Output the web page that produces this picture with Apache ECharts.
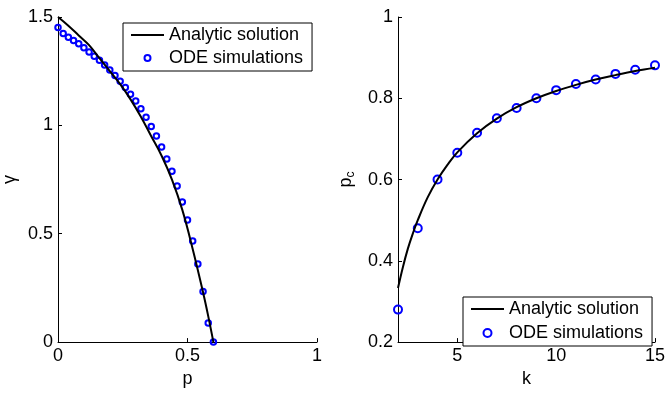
<!DOCTYPE html>
<html>
<head>
<meta charset="utf-8">
<script src="https://cdn.jsdelivr.net/npm/echarts@6/dist/echarts.min.js"></script>
<style>
  html, body { margin: 0; padding: 0; background: #fff; }
  #chart { width: 668px; height: 393px; }
</style>
</head>
<body>
<div id="chart"></div>
<script>
// left panel: gamma vs p
const pAnalytic = [0, 0.04, 0.08, 0.12, 0.16, 0.2, 0.24, 0.28, 0.32, 0.36, 0.4, 0.44, 0.48, 0.52, 0.56, 0.58, 0.6];
const gammaAnalytic = [1.5, 1.46, 1.415, 1.37, 1.31, 1.25, 1.19, 1.12, 1.04, 0.95, 0.86, 0.75, 0.61, 0.43, 0.23, 0.12, 0];
const pOde = [0, 0.02, 0.04, 0.06, 0.08, 0.1, 0.12, 0.14, 0.16, 0.18, 0.2, 0.22, 0.24, 0.26, 0.28, 0.3,
  0.32, 0.34, 0.36, 0.38, 0.4, 0.42, 0.44, 0.46, 0.48, 0.5, 0.52, 0.54, 0.56, 0.58, 0.6];
const gammaOde = [1.452, 1.424, 1.407, 1.392, 1.377, 1.358, 1.338, 1.319, 1.3, 1.279, 1.256, 1.23, 1.204, 1.175, 1.143, 1.112,
  1.077, 1.038, 0.995, 0.951, 0.9, 0.845, 0.788, 0.72, 0.646, 0.563, 0.467, 0.36, 0.234, 0.088, 0];

// right panel: p_c vs k
const kAnalytic = [2, 2.25, 2.5, 2.75, 3, 3.5, 4, 4.5, 5, 6, 7, 8, 9, 10, 11, 12, 13, 14, 15];
const pcAnalytic = [0.333, 0.385, 0.43, 0.467, 0.5, 0.556, 0.6, 0.636, 0.667, 0.714, 0.75, 0.778, 0.8, 0.818, 0.833, 0.846, 0.857, 0.867, 0.875];
const kOde = [2, 3, 4, 5, 6, 7, 8, 9, 10, 11, 12, 13, 14, 15];
const pcOde = [0.28, 0.48, 0.6, 0.666, 0.715, 0.751, 0.776, 0.8, 0.82, 0.835, 0.846, 0.86, 0.87, 0.881];

const kTicks = [5, 10, 15];
const legendNames = ['Analytic solution', 'ODE simulations'];

const font = "'Liberation Sans', Arial, sans-serif";
const pairs = (xs, ys) => xs.map((x, i) => [x, ys[i]]);

const axisCommon = {
  type: 'value',
  axisLine: { show: true, lineStyle: { color: '#000', width: 1 } },
  axisTick: { show: true, inside: true, length: 4, lineStyle: { color: '#000' } },
  splitLine: { show: false },
  axisLabel: { color: '#000', fontSize: 18, fontFamily: font, margin: 5 },
  nameLocation: 'middle',
  nameTextStyle: { color: '#000', fontSize: 18, fontFamily: font }
};

const legendCommon = {
  orient: 'vertical',
  borderColor: '#000',
  borderWidth: 1,
  backgroundColor: '#fff',
  borderRadius: 0,
  itemWidth: 33,
  textStyle: { color: '#000', fontSize: 18, fontFamily: font },
  data: [
    { name: legendNames[0], itemStyle: { opacity: 0 } },
    { name: legendNames[1] }
  ],
  selectedMode: false
};

const lineStyle = { color: '#000', width: 2 };
const circleStyle = { color: 'rgba(0,0,0,0)', borderColor: '#0000ff', borderWidth: 2, opacity: 1 };

const chart = echarts.init(document.getElementById('chart'), null, { renderer: 'canvas' });
chart.setOption({
  animation: false,
  backgroundColor: '#fff',
  grid: [
    { left: 58, top: 17, width: 259, height: 335 },
    { left: 398, top: 17, width: 259, height: 335 }
  ],
  xAxis: [
    Object.assign({}, axisCommon, { gridIndex: 0, min: 0, max: 1, interval: 0.5, name: 'p', nameGap: 23 }),
    Object.assign({}, axisCommon, {
      gridIndex: 1, min: 2, max: 15, name: 'k', nameGap: 23,
      axisTick: Object.assign({}, axisCommon.axisTick, { customValues: kTicks }),
      axisLabel: Object.assign({}, axisCommon.axisLabel, { customValues: kTicks })
    })
  ],
  yAxis: [
    Object.assign({}, axisCommon, { gridIndex: 0, min: 0, max: 1.5, interval: 0.5, name: 'γ', nameGap: 39 }),
    Object.assign({}, axisCommon, {
      gridIndex: 1, min: 0.2, max: 1, interval: 0.2, name: '{a|p}{b|c}', nameGap: 41,
      nameTextStyle: {
        color: '#000', fontFamily: font,
        rich: {
          a: { fontSize: 18, fontFamily: font, color: '#000', lineHeight: 20, verticalAlign: 'top' },
          b: { fontSize: 12, fontFamily: font, color: '#000', lineHeight: 12, verticalAlign: 'bottom' }
        }
      }
    })
  ],
  legend: [
    Object.assign({}, legendCommon, { left: 123, top: 23, padding: [3, 9, 4, 7], itemGap: 5, itemHeight: 6 }),
    Object.assign({}, legendCommon, { left: 463, top: 297, padding: [3, 9, 4, 7], itemGap: 6, itemHeight: 8 })
  ],
  series: [
    {
      name: legendNames[0], type: 'line', xAxisIndex: 0, yAxisIndex: 0,
      data: pairs(pAnalytic, gammaAnalytic), symbol: 'none', smooth: 0.4,
      lineStyle: lineStyle, itemStyle: { color: '#000' }
    },
    {
      name: legendNames[1], type: 'scatter', xAxisIndex: 0, yAxisIndex: 0,
      data: pairs(pOde, gammaOde), symbol: 'circle', symbolSize: 5.5,
      itemStyle: circleStyle
    },
    {
      name: legendNames[0], type: 'line', xAxisIndex: 1, yAxisIndex: 1,
      data: pairs(kAnalytic, pcAnalytic), symbol: 'none', smooth: 0.4,
      lineStyle: lineStyle, itemStyle: { color: '#000' }
    },
    {
      name: legendNames[1], type: 'scatter', xAxisIndex: 1, yAxisIndex: 1,
      data: pairs(kOde, pcOde), symbol: 'circle', symbolSize: 8,
      itemStyle: circleStyle
    }
  ]
});
</script>
</body>
</html>
